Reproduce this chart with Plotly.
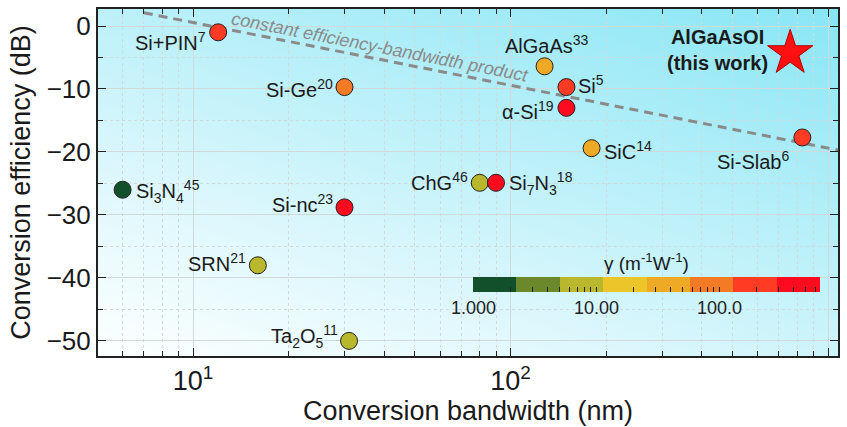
import base64
import numpy as np
import plotly.graph_objects as go

# ---------------- data ----------------
labels = ["Si+PIN<sup>7</sup>", "Si-Ge<sup>20</sup>", "Si<sub>3</sub>N<sub>4</sub><sup>45</sup>",
          "Si-nc<sup>23</sup>", "SRN<sup>21</sup>", "Ta<sub>2</sub>O<sub>5</sub><sup>11</sup>",
          "AlGaAs<sup>33</sup>", "Si<sup>5</sup>", "α-Si<sup>19</sup>", "SiC<sup>14</sup>",
          "ChG<sup>46</sup>", "Si<sub>7</sub>N<sub>3</sub><sup>18</sup>", "Si-Slab<sup>6</sup>"]
bandwidth_nm = [12, 30, 6, 30, 16, 31, 128, 150, 150, 180, 80, 90, 830]
efficiency_db = [-1.0, -9.7, -26.0, -28.8, -38.0, -50.0, -6.4, -9.7, -13.0, -19.4, -24.9, -24.9, -17.7]
gamma = [200, 100, 1.2, 400, 8, 7, 40, 200, 450, 30, 10, 550, 250]  # m^-1 W^-1

this_work_label = "<b>AlGaAsOI</b><br><b>(this work)</b>"
this_work_bw = [760]
this_work_eff = [-4.3]

trend_bw = [7, 1075]
trend_eff = [2.1, -19.7]

gamma_ticks = [1, 2, 3, 4, 5, 6, 7, 8, 9, 10, 20, 30, 40, 50, 60, 70, 80, 90, 100, 200, 300, 400, 500, 600]
gamma_ticktext = {1: "1.000", 10: "10.00", 100: "100.0"}
x_major = [10, 100, 1000]
x_major_text = ["10<sup>1</sup>", "10<sup>2</sup>", "10<sup>3</sup>"]
x_minor = [6, 7, 8, 9, 20, 30, 40, 50, 60, 70, 80, 90, 200, 300, 400, 500, 600, 700, 800, 900]

# ---------------- styles ----------------
seg_colors = ["#11502b", "#6b882b", "#b9b82c", "#ecc52b", "#eeaa24", "#f47a26", "#ff3b23", "#ff0a1f"]
n = len(seg_colors)
colorscale = []
for i, c in enumerate(seg_colors):
    colorscale.append([i / n, c])
    colorscale.append([(i + 1) / n, c])
CMAX = 2.82

FONT = "Liberation Sans, Arial, sans-serif"

# label placements: (xanchor, xshift, yshift)
placements = [
    ("right", -10, -9),
    ("right", -10, -1),
    ("left", 11, -2),
    ("right", -10, 4),
    ("right", -10, 3),
    ("right", -9, 4),
    ("center", 2, 22),
    ("left", 10, 3),
    ("right", -10, -3),
    ("left", 10, -2),
    ("right", -10, 1),
    ("left", 11, -1),
    ("right", -11, -23),
]

fig = go.Figure()

# trend line
fig.add_trace(go.Scatter(
    x=trend_bw, y=trend_eff, mode="lines",
    line=dict(color="#8a8a8a", width=3, dash="9px,6px"),
    hoverinfo="skip", showlegend=False))

# data points
fig.add_trace(go.Scatter(
    x=bandwidth_nm, y=efficiency_db, mode="markers",
    marker=dict(size=17, color=np.log10(gamma), colorscale=colorscale, cmin=0, cmax=CMAX,
                line=dict(color="#222222", width=1),
                showscale=True,
                colorbar=dict(orientation="h", xref="paper", yref="paper",
                              x=(474 - 98) / 741, xanchor="left",
                              y=(358 - 278) / 351, yanchor="top",
                              len=347, lenmode="pixels", thickness=15, thicknessmode="pixels",
                              xpad=0, ypad=0, outlinewidth=0,
                              ticks="inside", ticklen=5, tickwidth=1.2, tickcolor="#222",
                              tickvals=list(np.log10(gamma_ticks)),
                              ticktext=[gamma_ticktext.get(g, "") for g in gamma_ticks],
                              tickfont=dict(size=18, color="#222", family=FONT))),
    text=labels, hoverinfo="text", showlegend=False))

# this work star
fig.add_trace(go.Scatter(
    x=this_work_bw, y=this_work_eff, mode="markers",
    marker=dict(symbol="star", size=34, color="#ff1010", line=dict(color="#b00000", width=1)),
    hoverinfo="skip", showlegend=False))

annotations = []
for lab, bw, ef, (xa, xs, ys) in zip(labels, bandwidth_nm, efficiency_db, placements):
    annotations.append(dict(x=np.log10(bw), y=ef, xref="x", yref="y", text=lab, showarrow=False,
                            xanchor=xa, yanchor="middle", xshift=xs, yshift=ys,
                            font=dict(size=20, color="#1a1a1a", family=FONT)))
annotations.append(dict(x=np.log10(this_work_bw[0]), y=this_work_eff[0], xref="x", yref="y",
                        text=this_work_label, showarrow=False, xanchor="right", yanchor="middle",
                        xshift=-20, yshift=3, align="center",
                        font=dict(size=20, color="#1a1a1a", family=FONT)))
annotations.append(dict(x=1.588, y=-3.3, xref="x", yref="y",
                        text="<i>constant efficiency-bandwidth product</i>", showarrow=False,
                        textangle=11, xanchor="center", yanchor="middle",
                        font=dict(size=18, color="#8a8a8a", family=FONT)))
annotations.append(dict(x=(647 - 98) / 741, y=(358 - 263) / 351, xref="paper", yref="paper",
                        text="γ (m<sup>-1</sup>W<sup>-1</sup>)", showarrow=False,
                        xanchor="center", yanchor="middle",
                        font=dict(size=19, color="#1a1a1a", family=FONT)))

# gradient background
svg = ('<svg xmlns="http://www.w3.org/2000/svg" width="741" height="351" viewBox="0 0 741 351" '
       'preserveAspectRatio="none"><defs><linearGradient id="g" x1="0.18" y1="1.1" x2="1" y2="0">'
       '<stop offset="0" stop-color="#fbffff"/><stop offset="0.3" stop-color="#dcf7fc"/>'
       '<stop offset="1" stop-color="#88e6f5"/></linearGradient></defs>'
       '<rect width="741" height="351" fill="url(#g)"/></svg>')
src = "data:image/svg+xml;base64," + base64.b64encode(svg.encode()).decode()

axis_common = dict(showline=True, linecolor="#222", linewidth=2, mirror="allticks",
                   ticks="inside", ticklen=8, tickwidth=1.3, tickcolor="#222",
                   showgrid=True, gridcolor="#d2d9db", gridwidth=1, zeroline=False)

fig.update_layout(
    width=847, height=427,
    margin=dict(l=98, r=8, t=7, b=69),
    paper_bgcolor="white", plot_bgcolor="rgba(0,0,0,0)",
    images=[dict(source=src, xref="paper", yref="paper", x=0, y=1, sizex=1, sizey=1,
                 sizing="stretch", layer="below", xanchor="left", yanchor="top")],
    annotations=annotations,
    xaxis=dict(type="log", range=[np.log10(5.02), np.log10(1075)],
               tickmode="array", tickvals=x_major, ticktext=x_major_text,
               tickfont=dict(size=27, color="#1a1a1a", family=FONT),
               minor=dict(tickmode="array", tickvals=x_minor, ticks="inside", ticklen=5,
                          tickcolor="#222", showgrid=True, gridcolor="#d2d9db", griddash="dot"),
               title=dict(text="Conversion bandwidth (nm)", standoff=5,
                          font=dict(size=27, color="#1a1a1a", family=FONT)),
               **axis_common),
    yaxis=dict(range=[-52.4, 2.7], tick0=0, dtick=10,
               tickfont=dict(size=26, color="#1a1a1a", family=FONT),
               minor=dict(dtick=5, ticks="inside", ticklen=5, tickcolor="#222",
                          showgrid=True, gridcolor="#d2d9db", griddash="dot"),
               title=dict(text="Conversion efficiency (dB)", standoff=8,
                          font=dict(size=27, color="#1a1a1a", family=FONT)),
               **axis_common),
)

fig.write_html("out.html", config={"displayModeBar": False},
               post_script="document.body.style.margin='0';document.body.style.overflow='hidden';")
